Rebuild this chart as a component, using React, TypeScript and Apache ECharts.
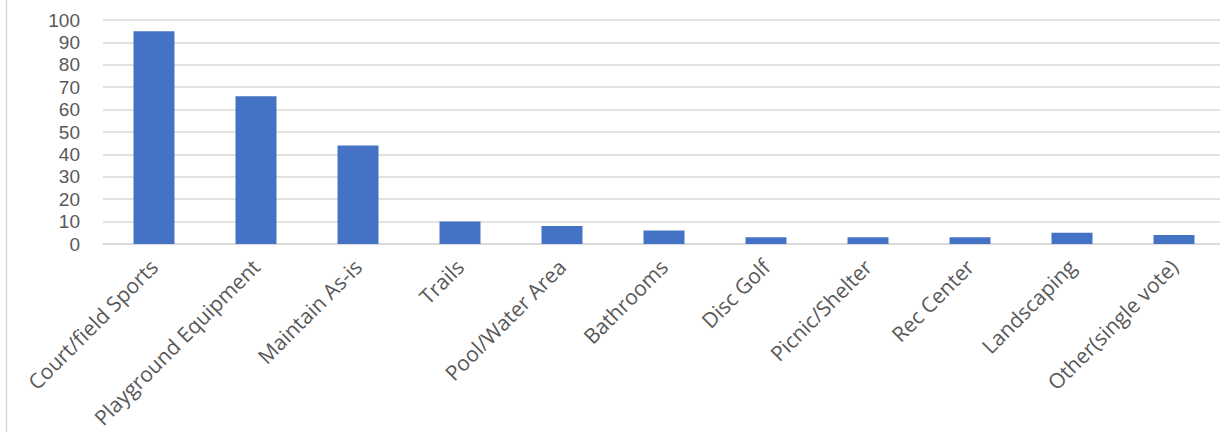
import React, { useEffect, useRef } from "react";
import * as echarts from "echarts";

const categories = [
  "Court/field Sports",
  "Playground Equipment",
  "Maintain As-is",
  "Trails",
  "Pool/Water Area",
  "Bathrooms",
  "Disc Golf",
  "Picnic/Shelter",
  "Rec Center",
  "Landscaping",
  "Other(single vote)",
];

const votes = [95, 66, 44, 10, 8, 6, 3, 3, 3, 5, 4];

const yMin = 0;
const yMax = 100;
const yStep = 10;

const FONT = "'Segoe UI', 'Open Sans', 'Noto Sans', sans-serif";
const NUM_FONT = "'Liberation Sans', Arial, sans-serif";
const TEXT = "#595959";
const GRID = "#d9d9d9";
const BAR = "#4472C4";

export default function App() {
  const ref = useRef<HTMLDivElement>(null);

  useEffect(() => {
    document.body.style.margin = "0";
    document.body.style.overflow = "hidden";
    const chart = echarts.init(ref.current!, undefined, { renderer: "svg" });
    chart.setOption({
      animation: false,
      backgroundColor: "#ffffff",
      grid: { left: 103, right: 5, top: 20, bottom: 188, containLabel: false },
      graphic: [
        {
          type: "line",
          shape: { x1: 6.5, y1: 0, x2: 6.5, y2: 432 },
          style: { stroke: GRID, lineWidth: 1.5 },
        },
      ],
      xAxis: {
        type: "category",
        data: categories,
        axisLine: { show: true, lineStyle: { color: GRID, width: 1.5 } },
        axisTick: { show: false },
        axisLabel: {
          interval: 0,
          rotate: 45,
          margin: 19,
          color: TEXT,
          fontFamily: FONT,
          fontSize: 21,
          lineHeight: 22,
        },
      },
      yAxis: {
        type: "value",
        min: yMin,
        max: yMax,
        interval: yStep,
        axisLine: { show: false },
        axisTick: { show: false },
        splitLine: { lineStyle: { color: GRID, width: 1.5 } },
        axisLabel: {
          margin: 23,
          color: TEXT,
          fontFamily: NUM_FONT,
          fontSize: 19,
          lineHeight: 20,
        },
      },
      series: [
        {
          type: "bar",
          data: votes,
          barWidth: 41,
          itemStyle: { color: BAR },
        },
      ],
    });
    return () => chart.dispose();
  }, []);

  return (
    <div
      ref={ref}
      style={{ position: "fixed", left: 0, top: 0, width: 1230, height: 432 }}
    />
  );
}
